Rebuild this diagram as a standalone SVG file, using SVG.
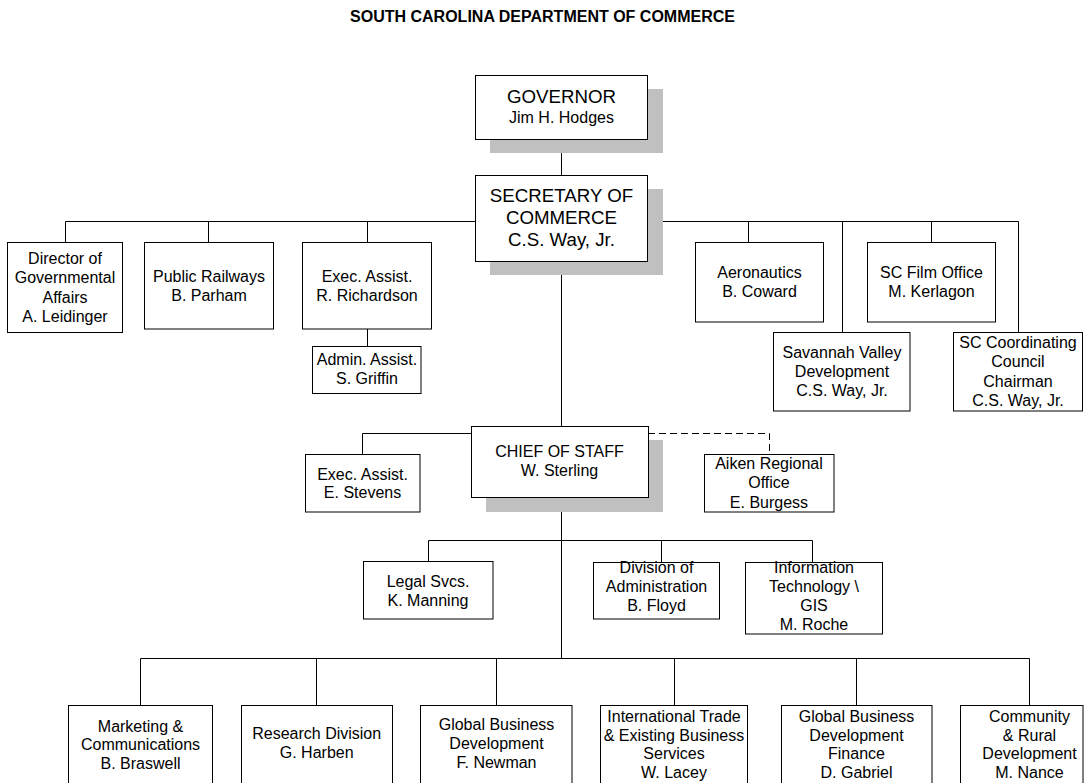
<svg xmlns="http://www.w3.org/2000/svg" width="1085" height="783" viewBox="0 0 1085 783">
<style>
.bg{fill:#ffffff}
.box{fill:#ffffff;stroke:#000000;stroke-width:1}
.sh{fill:#c0c0c0}
.ln{fill:none;stroke:#000000;stroke-width:1}
.dash{fill:none;stroke:#000000;stroke-width:1;stroke-dasharray:7,4}
text{font-family:"Liberation Sans",Arial,Helvetica,sans-serif;fill:#000000;text-anchor:middle}
.t{font-size:16px}
.big{font-size:18.7px}
.title{font-size:16px;font-weight:bold}
</style>
<rect class="bg" x="0" y="0" width="1085" height="783"/>
<text class="title" x="542.5" y="22">SOUTH CAROLINA DEPARTMENT OF COMMERCE</text>

<g id="connectors">
<path class="ln" d="M561.5,139 V175"/>
<path class="ln" d="M65.5,242.5 V221.5 H1018.5 V332.5"/>
<path class="ln" d="M208.5,221.5 V242.5 M367.5,221.5 V242.5 M748.5,221.5 V242.5 M842.5,221.5 V332.5 M931.5,221.5 V242.5"/>
<path class="ln" d="M367.5,329 V346.5"/>
<path class="ln" d="M561.5,261 V658.5"/>
<path class="ln" d="M471,433.5 H362.5 V454.5"/>
<path class="dash" d="M648,433.5 H769.5 V454.5"/>
<path class="ln" d="M428.5,561.5 V540.5 H812.5 V562.5 M661.5,540.5 V562.5"/>
<path class="ln" d="M140.5,705 V658.5 H1029.5 V705 M316.5,658.5 V705 M496.5,658.5 V705 M674.5,658.5 V705 M856.5,658.5 V705"/>
</g>

<g id="governor">
<rect class="sh" x="490" y="89" width="173" height="64"/>
<rect class="box" x="475.5" y="75.5" width="172" height="64"/>
<text class="big" x="561.5" y="103">GOVERNOR</text>
<text class="t" x="561.5" y="123">Jim H. Hodges</text>
</g>

<g id="secretary">
<rect class="sh" x="490" y="189" width="173" height="86"/>
<rect class="box" x="475.5" y="175.5" width="172" height="86"/>
<text class="big" x="561.5" y="202">SECRETARY OF</text>
<text class="big" x="561.5" y="224">COMMERCE</text>
<text class="big" x="561.5" y="246">C.S. Way, Jr.</text>
</g>

<g id="director-gov-affairs">
<rect class="box" x="7.5" y="242.5" width="115" height="90"/>
<text class="t" x="65" y="264">Director of</text>
<text class="t" x="65" y="283.3">Governmental</text>
<text class="t" x="65" y="302.6">Affairs</text>
<text class="t" x="65" y="321.8">A. Leidinger</text>
</g>

<g id="public-railways">
<rect class="box" x="144.5" y="242.5" width="129" height="86.5"/>
<text class="t" x="209" y="281.7">Public Railways</text>
<text class="t" x="209" y="300.7">B. Parham</text>
</g>

<g id="exec-assist-richardson">
<rect class="box" x="302.5" y="242.5" width="129" height="86.5"/>
<text class="t" x="367" y="281.7">Exec. Assist.</text>
<text class="t" x="367" y="300.7">R. Richardson</text>
</g>

<g id="admin-assist">
<rect class="box" x="312.5" y="346.5" width="108.5" height="47"/>
<text class="t" x="367" y="365">Admin. Assist.</text>
<text class="t" x="367" y="384">S. Griffin</text>
</g>

<g id="aeronautics">
<rect class="box" x="695.5" y="242.5" width="128" height="79.5"/>
<text class="t" x="759.5" y="277.7">Aeronautics</text>
<text class="t" x="759.5" y="296.7">B. Coward</text>
</g>

<g id="film-office">
<rect class="box" x="867.5" y="242.5" width="128" height="79.5"/>
<text class="t" x="931.5" y="277.7">SC Film Office</text>
<text class="t" x="931.5" y="296.7">M. Kerlagon</text>
</g>

<g id="savannah-valley">
<rect class="box" x="773.5" y="332.5" width="136.5" height="78.5"/>
<text class="t" x="842" y="358.3">Savannah Valley</text>
<text class="t" x="842" y="377.3">Development</text>
<text class="t" x="842" y="396">C.S. Way, Jr.</text>
</g>

<g id="sc-coordinating">
<rect class="box" x="953.5" y="332.5" width="129" height="78.5"/>
<text class="t" x="1018" y="348.3">SC Coordinating</text>
<text class="t" x="1018" y="367.3">Council</text>
<text class="t" x="1018" y="386.5">Chairman</text>
<text class="t" x="1018" y="405.5">C.S. Way, Jr.</text>
</g>

<g id="chief-of-staff">
<rect class="sh" x="486" y="440" width="177" height="72"/>
<rect class="box" x="471.5" y="426.5" width="177" height="71"/>
<text class="t" x="559.5" y="456.7">CHIEF OF STAFF</text>
<text class="t" x="559.5" y="475.7">W. Sterling</text>
</g>

<g id="exec-assist-stevens">
<rect class="box" x="305.5" y="454.5" width="114.5" height="57.5"/>
<text class="t" x="362.5" y="480">Exec. Assist.</text>
<text class="t" x="362.5" y="498.3">E. Stevens</text>
</g>

<g id="aiken-regional">
<rect class="box" x="704.5" y="454.5" width="129.5" height="57.5"/>
<text class="t" x="769" y="469">Aiken Regional</text>
<text class="t" x="769" y="488.3">Office</text>
<text class="t" x="769" y="507.7">E. Burgess</text>
</g>

<g id="legal-svcs">
<rect class="box" x="363.5" y="561.5" width="129.5" height="57.5"/>
<text class="t" x="428" y="586.7">Legal Svcs.</text>
<text class="t" x="428" y="605.7">K. Manning</text>
</g>

<g id="division-admin">
<rect class="box" x="593.5" y="562.5" width="126" height="56.5"/>
<text class="t" x="656.5" y="573.3">Division of</text>
<text class="t" x="656.5" y="592">Administration</text>
<text class="t" x="656.5" y="611">B. Floyd</text>
</g>

<g id="it-gis">
<rect class="box" x="745.5" y="562.5" width="137" height="71.5"/>
<text class="t" x="814" y="573.3">Information</text>
<text class="t" x="814" y="592">Technology \</text>
<text class="t" x="814" y="611">GIS</text>
<text class="t" x="814" y="630">M. Roche</text>
</g>

<g id="marketing">
<rect class="box" x="68.5" y="705.5" width="144" height="85"/>
<text class="t" x="140.5" y="731.7">Marketing &amp;</text>
<text class="t" x="140.5" y="750.3">Communications</text>
<text class="t" x="140.5" y="768.7">B. Braswell</text>
</g>

<g id="research">
<rect class="box" x="241.5" y="705.5" width="151" height="85"/>
<text class="t" x="316.7" y="739.3">Research Division</text>
<text class="t" x="316.7" y="757.7">G. Harben</text>
</g>

<g id="global-business-dev">
<rect class="box" x="420.5" y="705.5" width="151.5" height="85"/>
<text class="t" x="496.5" y="730">Global Business</text>
<text class="t" x="496.5" y="749">Development</text>
<text class="t" x="496.5" y="767.7">F. Newman</text>
</g>

<g id="international-trade">
<rect class="box" x="600.5" y="705.5" width="147" height="85"/>
<text class="t" x="674" y="721.7">International Trade</text>
<text class="t" x="674" y="740.7">&amp; Existing Business</text>
<text class="t" x="674" y="759.3">Services</text>
<text class="t" x="674" y="778.3">W. Lacey</text>
</g>

<g id="gbd-finance">
<rect class="box" x="781.5" y="705.5" width="150.5" height="85"/>
<text class="t" x="856.5" y="721.7">Global Business</text>
<text class="t" x="856.5" y="740.7">Development</text>
<text class="t" x="856.5" y="759.3">Finance</text>
<text class="t" x="856.5" y="778.3">D. Gabriel</text>
</g>

<g id="community-rural">
<rect class="box" x="960.5" y="705.5" width="122.5" height="85"/>
<text class="t" x="1029.5" y="721.7">Community</text>
<text class="t" x="1029.5" y="740.7">&amp; Rural</text>
<text class="t" x="1029.5" y="759.3">Development</text>
<text class="t" x="1029.5" y="778.3">M. Nance</text>
</g>
</svg>
